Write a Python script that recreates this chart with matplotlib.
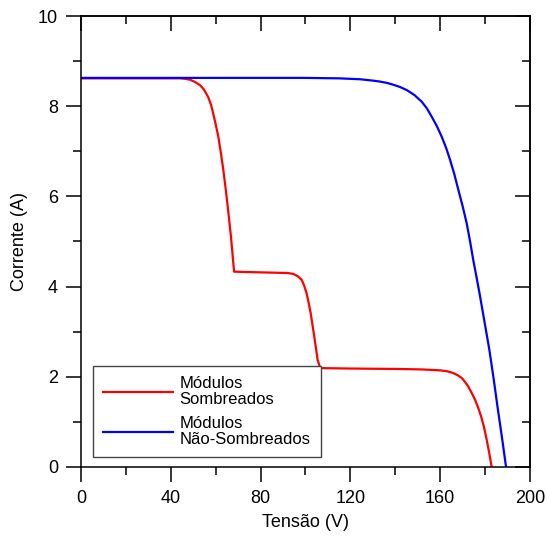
import matplotlib
matplotlib.use("Agg")
import matplotlib.pyplot as plt
from matplotlib.ticker import MultipleLocator

# Data
red_v = [0, 20, 40, 44, 46.3, 48.6, 50.8, 53.0, 54.8, 56.6, 57.9, 58.9, 60.0, 61.2, 62.3,
         63.4, 64.3, 65.2, 66.0, 66.8, 67.5, 68.2,
         75, 84, 92, 94.6, 96.5, 98.3, 99.4, 100.5, 101.4, 102.3, 103.1, 103.9, 104.7,
         105.4, 106.0, 106.5,
         120, 142, 152, 159.9, 163, 165.8, 167.8, 169.6, 171.1, 172.5, 174.0, 175.5,
         176.9, 178.2, 179.4, 180.4, 181.7, 182.9]
red_i = [8.62, 8.62, 8.62, 8.62, 8.61, 8.59, 8.54, 8.47, 8.37, 8.21, 8.04, 7.84, 7.60, 7.32, 6.97,
         6.59, 6.23, 5.85, 5.48, 5.11, 4.72, 4.33,
         4.32, 4.31, 4.30, 4.28, 4.23, 4.15, 4.02, 3.85, 3.64, 3.41, 3.15, 2.89, 2.62,
         2.37, 2.28, 2.19,
         2.18, 2.17, 2.16, 2.14, 2.12, 2.08, 2.03, 1.97, 1.88, 1.78, 1.64, 1.49,
         1.31, 1.12, 0.90, 0.67, 0.34, 0.0]

blue_v = [0, 40, 80, 100, 115, 124.3, 130, 133, 136.2, 139, 142, 145.1, 148.5, 151.8, 154.1,
          156.2, 158.5, 160.7, 162.6, 164.4, 166.3, 168.1, 170.0, 171.8, 173.3, 174.7,
          176.2, 177.5, 178.8, 180.3, 181.9, 183.8, 185.6, 187.5, 189.3]
blue_i = [8.63, 8.63, 8.63, 8.63, 8.62, 8.60, 8.57, 8.55, 8.52, 8.48, 8.43, 8.36, 8.25, 8.10, 7.95,
          7.77, 7.56, 7.32, 7.08, 6.81, 6.49, 6.14, 5.78, 5.40, 5.00, 4.59,
          4.20, 3.85, 3.48, 3.05, 2.59, 1.95, 1.30, 0.65, 0.0]

labels = ["Módulos\nSombreados", "Módulos\nNão-Sombreados"]
x_label = "Tensão (V)"
y_label = "Corrente (A)"

plt.rcParams['font.family'] = ['Liberation Sans', 'DejaVu Sans']
plt.rcParams['font.size'] = 13

fig = plt.figure(figsize=(5.47, 5.39), dpi=100)
ax = fig.add_axes([0.148, 0.134, 0.821, 0.836])

ax.plot(red_v, red_i, color='#FF0000', lw=1.6, label=labels[0])
ax.plot(blue_v, blue_i, color='#0000FF', lw=1.6, label=labels[1])

ax.set_xlim(0, 200)
ax.set_ylim(0, 10)
ax.xaxis.set_major_locator(MultipleLocator(40))
ax.xaxis.set_minor_locator(MultipleLocator(20))
ax.yaxis.set_major_locator(MultipleLocator(2))
ax.yaxis.set_minor_locator(MultipleLocator(1))

for sp in ax.spines.values():
    sp.set_linewidth(1.1)

ax.tick_params(which='both', direction='out', width=1.1, top=False, right=False,
               labelsize=13, pad=6)
ax.tick_params(which='major', length=10.5)
ax.tick_params(which='minor', length=5.5)

# top and right ticks pointing inward
secx = ax.secondary_xaxis('top')
secx.xaxis.set_major_locator(MultipleLocator(40))
secx.xaxis.set_minor_locator(MultipleLocator(20))
secx.tick_params(which='both', direction='in', width=1.1, labeltop=False)
secx.tick_params(which='major', length=10.5)
secx.tick_params(which='minor', length=5.5)
secx.spines['top'].set_linewidth(1.1)

secy = ax.secondary_yaxis('right')
secy.yaxis.set_major_locator(MultipleLocator(2))
secy.yaxis.set_minor_locator(MultipleLocator(1))
secy.tick_params(which='both', direction='in', width=1.1, labelright=False)
secy.tick_params(which='major', length=10.5)
secy.tick_params(which='minor', length=5.5)
secy.spines['right'].set_linewidth(1.1)

ax.set_xlabel(x_label, fontsize=13, labelpad=5)
ax.set_ylabel(y_label, fontsize=13, labelpad=7)

leg = ax.legend(loc='lower left', bbox_to_anchor=(0.027, 0.022), borderaxespad=0,
                fancybox=False, frameon=True, edgecolor='#444444', framealpha=1,
                fontsize=12, handlelength=4.2, handletextpad=0.4, borderpad=0.6,
                labelspacing=0.55)
leg._legend_box.sep = 0
for t in leg.get_texts():
    t.set_linespacing(1.05)
leg.get_frame().set_linewidth(1.0)

fig.savefig("out.png", dpi=100)
